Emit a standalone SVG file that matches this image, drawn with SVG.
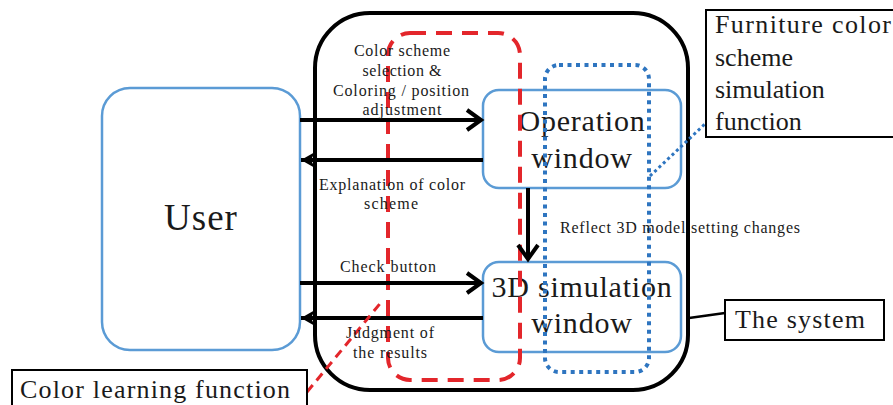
<svg xmlns="http://www.w3.org/2000/svg" width="893" height="405" viewBox="0 0 893 405">
  <defs>
    <style>
      .serif { font-family: "Liberation Serif", "Times New Roman", serif; fill: #1a1a1a; }
      .lbl { font-size: 16px; text-anchor: middle; }
      .big { font-size: 30px; text-anchor: middle; }
      .note { font-size: 26px; }
      .box { fill: #ffffff; stroke: #5b9bd5; stroke-width: 2.5; }
      .frame { fill: none; stroke: #000000; stroke-width: 4; }
      .callout { fill: #ffffff; stroke: #000000; stroke-width: 2; }
      .flow { stroke: #000000; stroke-width: 4; fill: none; }
    </style>
    <marker id="chev" markerUnits="userSpaceOnUse" markerWidth="20" markerHeight="24" viewBox="-16 -12 20 24" refX="0" refY="0" orient="auto">
      <path d="M-14,-10 L0,0 L-14,10" fill="none" stroke="#000" stroke-width="4" stroke-linejoin="miter"/>
    </marker>
    <marker id="stealth" markerUnits="userSpaceOnUse" markerWidth="20" markerHeight="20" viewBox="-16 -10 20 20" refX="0" refY="0" orient="auto">
      <path d="M0,0 L-14,-8 L-10,0 L-14,8 Z" fill="#000"/>
    </marker>
  </defs>

  <rect width="893" height="405" fill="#ffffff"/>

  <!-- the system frame -->
  <g id="system">
    <rect class="frame" x="315" y="13" width="373" height="377" rx="55" ry="55"/>
  </g>

  <!-- user -->
  <g id="user">
    <rect class="box" x="102" y="88" width="198" height="262" rx="28" ry="28"/>
    <text class="serif" x="201" y="230" font-size="37" text-anchor="middle" letter-spacing="1">User</text>
  </g>

  <!-- operation window -->
  <g id="operation-window">
    <rect class="box" x="483" y="90" width="198" height="98" rx="16" ry="16"/>
    <text class="serif big" x="582" y="131" letter-spacing="0.8">Operation</text>
    <text class="serif big" x="582" y="168" letter-spacing="0.8">window</text>
  </g>

  <!-- 3D simulation window -->
  <g id="simulation-window">
    <rect class="box" x="483" y="262" width="198" height="90" rx="16" ry="16"/>
    <text class="serif big" x="582" y="297" letter-spacing="0.8">3D simulation</text>
    <text class="serif big" x="582" y="333" letter-spacing="0.8">window</text>
  </g>

  <!-- function groupings -->
  <g id="color-learning-region">
    <rect x="388" y="33" width="132" height="347" rx="22" ry="22" fill="none" stroke="#e3262b" stroke-width="4" stroke-dasharray="16 10"/>
  </g>
  <g id="furniture-sim-region">
    <rect x="545" y="65" width="104" height="307" rx="14" ry="14" fill="none" stroke="#2e75c0" stroke-width="4" stroke-dasharray="4 4.5"/>
  </g>

  <!-- connectors -->
  <g id="connectors">
    <line class="flow" x1="300" y1="120" x2="481" y2="120" marker-end="url(#chev)"/>
    <line class="flow" x1="483" y1="160" x2="301" y2="160" marker-end="url(#stealth)"/>
    <line class="flow" x1="528" y1="188" x2="528" y2="259" marker-end="url(#chev)"/>
    <line class="flow" x1="300" y1="283" x2="481" y2="283" marker-end="url(#chev)"/>
    <line class="flow" x1="483" y1="318" x2="301" y2="318" marker-end="url(#stealth)"/>
    <!-- callout leaders -->
    <line x1="650" y1="176" x2="706" y2="123" stroke="#2e75c0" stroke-width="3" stroke-dasharray="3 3"/>
    <line x1="689" y1="318" x2="725" y2="313" stroke="#000" stroke-width="2.5"/>
    <line x1="307" y1="392" x2="383" y2="300" stroke="#e3262b" stroke-width="3" stroke-dasharray="9 6"/>
  </g>

  <!-- connector labels -->
  <g id="labels">
    <text class="serif lbl" x="402" y="56" textLength="96">Color scheme</text>
    <text class="serif lbl" x="402" y="76" textLength="79">selection &amp;</text>
    <text class="serif lbl" x="401" y="96" textLength="136">Coloring / position</text>
    <text class="serif lbl" x="402" y="115" textLength="79">adjustment</text>
    <text class="serif lbl" x="392" y="190" textLength="146">Explanation of color</text>
    <text class="serif lbl" x="391" y="209" textLength="54">scheme</text>
    <text class="serif" x="560" y="233" font-size="16" textLength="240">Reflect 3D model setting changes</text>
    <text class="serif lbl" x="388" y="272" textLength="96">Check button</text>
    <text class="serif lbl" x="390" y="338" textLength="88">Judgment of</text>
    <text class="serif lbl" x="390" y="358" textLength="74">the results</text>
  </g>

  <!-- callout boxes -->
  <g id="furniture-callout">
    <rect class="callout" x="706" y="10" width="190" height="127"/>
    <text class="serif note" x="715" y="33" textLength="176">Furniture color</text>
    <text class="serif note" x="715" y="66">scheme</text>
    <text class="serif note" x="715" y="98">simulation</text>
    <text class="serif note" x="715" y="130">function</text>
  </g>
  <g id="system-callout">
    <rect class="callout" x="725" y="300" width="159" height="40"/>
    <text class="serif note" x="735" y="328" textLength="130">The system</text>
  </g>
  <g id="learning-callout">
    <rect class="callout" x="12" y="370" width="295" height="40"/>
    <text class="serif note" x="20" y="398" textLength="270">Color learning function</text>
  </g>
</svg>
